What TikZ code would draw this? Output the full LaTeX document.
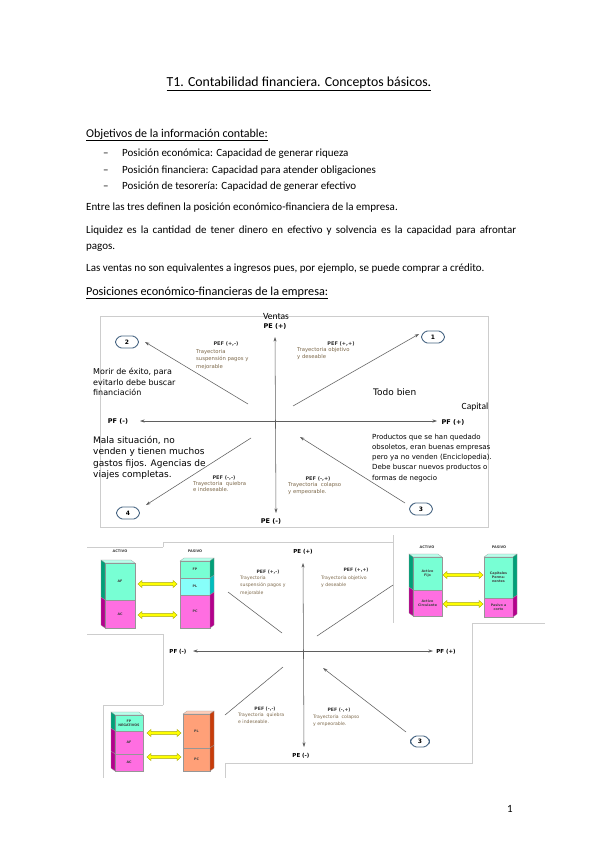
\documentclass[tikz,border=0pt]{standalone}
\usepackage{fontspec}
\setmainfont{Carlito}
\newfontfamily\dv{DejaVu Sans}
\usetikzlibrary{arrows.meta,shapes.misc}
\definecolor{aqF}{RGB}{120,255,212}
\definecolor{aqS}{RGB}{0,160,120}
\definecolor{aqT}{RGB}{185,255,235}
\definecolor{cyF}{RGB}{135,255,250}
\definecolor{cyS}{RGB}{0,190,190}
\definecolor{pkF}{RGB}{255,110,225}
\definecolor{pkS}{RGB}{180,0,140}
\definecolor{saF}{RGB}{255,160,120}
\definecolor{saS}{RGB}{200,60,10}
\definecolor{saT}{RGB}{255,205,185}
\definecolor{yelF}{RGB}{255,255,0}
\definecolor{yelD}{RGB}{165,165,0}
\definecolor{axc}{RGB}{95,95,95}
\definecolor{frm}{RGB}{205,205,205}
\definecolor{trc}{RGB}{125,105,75}
\definecolor{bdg}{RGB}{70,100,130}
\definecolor{bxl}{RGB}{150,150,150}
\tikzset{
  body/.style={anchor=base west, inner sep=0pt, font=\fontsize{11}{13}\selectfont},
  hd/.style={anchor=base west, inner sep=0pt, font=\fontsize{12}{14}\selectfont},
  frmline/.style={draw=frm, line width=0.6pt},
  axl/.style={draw=axc, line width=0.55pt},
  arr/.style={axl, -{Stealth[length=4.5pt,width=3pt]}},
  ax/.style={axl, {Stealth[length=4.5pt,width=3pt]}-{Stealth[length=4.5pt,width=3pt]}},
  axlab/.style={anchor=base, inner sep=0pt, font=\dv\bfseries\fontsize{6.5}{7}\selectfont},
  axlabb/.style={anchor=base, inner sep=0pt, font=\dv\bfseries\fontsize{5.5}{6}\selectfont},
  pef/.style={anchor=base, inner sep=0pt, font=\dv\bfseries\fontsize{5}{6}\selectfont, text=black!80},
  pefb/.style={anchor=base, inner sep=0pt, font=\dv\bfseries\fontsize{4.6}{5}\selectfont, text=black!80},
  tray/.style={anchor=base west, inner sep=0pt, font=\dv\fontsize{5.3}{6}\selectfont, text=trc},
  trayb/.style={anchor=base west, inner sep=0pt, font=\dv\fontsize{4.6}{5}\selectfont, text=trc},
  big/.style={anchor=base west, inner sep=0pt, font=\dv\fontsize{9}{11}\selectfont},
  mid/.style={anchor=base west, inner sep=0pt, font=\dv\fontsize{8}{10}\selectfont},
  sml/.style={anchor=base west, inner sep=0pt, font=\dv\fontsize{7}{9}\selectfont},
  badge/.style={chamfered rectangle, chamfered rectangle xsep=3pt, draw=bdg, line width=0.9pt,
    minimum width=23pt, minimum height=12pt, inner sep=0pt, rounded corners=1.5pt,
    font=\dv\bfseries\fontsize{6}{6}\selectfont},
  badgeb/.style={badge, minimum width=19pt, minimum height=11pt},
  bl/.style={inner sep=0pt, align=center, font=\dv\bfseries\fontsize{3.3}{4}\selectfont, text=black!75},
  bh/.style={anchor=base, inner sep=0pt, font=\dv\bfseries\fontsize{3.5}{4}\selectfont, text=black!75},
}
% 3D column: #1 name, #2 x0, #3 x1, #4 side offset, #5 top y, #6 top colour, #7 segments
\newcommand\bcol[7]{%
  \pgfmathsetmacro\xe{#4<0 ? #2 : #3}%
  \fill[#6, draw=bxl, line width=0.2pt] (#2,#5) -- (#3,#5) -- ({#3+(#4)},{#5-3}) -- ({#2+(#4)},{#5-3}) -- cycle;
  \foreach \ya/\yb/\fc/\sc/\lb [count=\k] in {#7}{%
    \fill[\fc, draw=bxl, line width=0.2pt] (#2,\ya) rectangle (#3,\yb);
    \fill[\sc, draw=bxl, line width=0.2pt] (\xe,\ya) -- ({\xe+(#4)},{\ya-3}) -- ({\xe+(#4)},{\yb-3}) -- (\xe,\yb) -- cycle;
    \node[bl] (#1\k) at ({(#2+#3)/2},{(\ya+\yb)/2}) {\lb};
  }%
}
% yellow double arrow: #1 x0, #2 x1, #3 y
\newcommand\yarrow[3]{%
  \fill[yelF, draw=yelD, line width=0.4pt] (#1,#3) -- ({#1+4},{#3-3.6}) -- ({#1+4},{#3-1.4}) -- ({#2-4},{#3-1.4}) -- ({#2-4},{#3-3.6}) -- (#2,#3)
   -- ({#2-4},{#3+3.6}) -- ({#2-4},{#3+1.4}) -- ({#1+4},{#3+1.4}) -- ({#1+4},{#3+3.6}) -- cycle;
}
\begin{document}
\begin{tikzpicture}[x=1pt,y=-1pt]
\useasboundingbox[fill=white] (0,0) rectangle (599,848);

% ---------- text ----------
\node[anchor=base, inner sep=0pt, font=\fontsize{13.8}{16}\selectfont] (title) at (299,86.5) {\underline{T1. Contabilidad financiera. Conceptos básicos.}};
\node[hd] (obj) at (86,137) {\underline{Objetivos de la información contable:}};
\node[body] (d1) at (103,156.5) {–};
\node[body] (l1) at (122,156.5) {Posición económica: Capacidad de generar riqueza};
\node[body] (d2) at (103,173) {–};
\node[body] (l2) at (122,173) {Posición financiera: Capacidad para atender obligaciones};
\node[body] (d3) at (103,189.5) {–};
\node[body] (l3) at (122,189.5) {Posición de tesorería: Capacidad de generar efectivo};
\node[body] (p1) at (86,210.5) {Entre las tres definen la posición económico-financiera de la empresa.};
\node[body] (p2) at (86,233.5) {\makebox[430pt][s]{Liquidez es la cantidad de tener dinero en efectivo y solvencia es la capacidad para afrontar}};
\node[body] (p3) at (86,249.5) {pagos.};
\node[body] (p4) at (86,271.5) {Las ventas no son equivalentes a ingresos pues, por ejemplo, se puede comprar a crédito.};
\node[anchor=base west, inner sep=0pt, font=\fontsize{12.2}{14}\selectfont] (h2) at (86,295) {\underline{Posiciones económico-financieras de la empresa:}};
\node[body] (pg) at (507,812) {1};

% ---------- diagram 1 ----------
\draw[frmline] (100,316) rectangle (488,527);
\coordinate (v1t) at (275,337);
\coordinate (v1b) at (276,513);
\coordinate (h1l) at (140,421);
\coordinate (h1r) at (437,421);
\draw[ax] (v1t) -- (v1b);
\draw[ax] (h1l) -- (h1r);
\node[anchor=base, inner sep=0pt, font=\fontsize{9.5}{10}\selectfont] (ventas) at (276,319) {Ventas};
\node[axlab] (pe1p) at (275,328.5) {PE (+)};
\node[axlab] (pe1m) at (271,523.5) {PE (-)};
\node[axlab] (pf1m) at (118,423.5) {PF (-)};
\node[axlab] (pf1p) at (453,424.5) {PF (+)};
\node[anchor=base, inner sep=0pt, font=\fontsize{9.5}{10}\selectfont] (capital) at (475,409) {Capital};

\node[badge] (n2) at (127,342) {2};
\node[badge] (n1) at (433,337) {1};
\node[badge] (n4) at (128,513) {4};
\node[badge] (n3) at (421,509) {3};

\coordinate (a2s) at (248,404); \coordinate (a2e) at (145,342);
\coordinate (a1s) at (293,406); \coordinate (a1e) at (419,334);
\coordinate (a4s) at (251,438); \coordinate (a4e) at (146,505);
\coordinate (a3s) at (405,503); \coordinate (a3e) at (300,437);
\draw[arr] (a2s) -- (a2e);
\draw[arr] (a1s) -- (a1e);
\draw[arr] (a4s) -- (a4e);
\draw[arr] (a3s) -- (a3e);

\node[pef] (pefA) at (226,345) {PEF (+,-)};
\node[tray] (tA1) at (196,353) {Trayectoria};
\node[tray] (tA2) at (196,360.5) {suspensión pagos y};
\node[tray] (tA3) at (196,368) {mejorable};
\node[pef] (pefB) at (341,345) {PEF (+,+)};
\node[tray] (tB1) at (297,351.5) {Trayectoria objetivo};
\node[tray] (tB2) at (297,358.5) {y deseable};
\node[pef] (pefC) at (224,479) {PEF (-,-)};
\node[tray] (tC1) at (193,485) {Trayectoria\ \ quiebra};
\node[tray] (tC2) at (193,491.5) {e indeseable.};
\node[pef] (pefD) at (318,480) {PEF (-,+)};
\node[tray] (tD1) at (288,486.5) {Trayectoria\ \ colapso};
\node[tray] (tD2) at (288,493) {y empeorable.};

\node[mid] (m1) at (93,374.5) {Morir de éxito, para};
\node[mid] (m2) at (93,385) {evitarlo debe buscar};
\node[mid] (m3) at (93,395.5) {financiación};
\node[big] (todo) at (373,395) {Todo bien};
\node[big] (s1) at (93,443) {Mala situación, no};
\node[big] (s2) at (93,454.5) {venden y tienen muchos};
\node[big] (s3) at (93,466) {gastos fijos. Agencias de};
\node[big] (s4) at (93,477.5) {viajes completas.};
\node[sml] (q1) at (372,439) {Productos que se han quedado};
\node[sml] (q2) at (372,449.3) {obsoletos, eran buenas empresas};
\node[sml] (q3) at (372,459.6) {pero ya no venden (Enciclopedia).};
\node[sml] (q4) at (372,469.9) {Debe buscar nuevos productos o};
\node[sml] (q5) at (372,480.2) {formas de negocio};

% ---------- diagram 2 ----------
\draw[frmline] (163,542) rectangle (472,763);
\fill[white] (87,547) rectangle (226,634);
\fill[white] (393,530) rectangle (545,623);
\fill[white] (103,705) rectangle (225,778);
\draw[frmline] (87,547) -- (163,547);
\draw[frmline] (87,634) -- (163,634);
\draw[frmline] (393,535) -- (393,623);
\draw[frmline] (472,623) -- (545,623);
\draw[frmline] (103,705) -- (163,705);
\draw[frmline] (103,705) -- (103,778);
\draw[frmline] (225,763) -- (225,778);

\coordinate (v2t) at (303,563);
\coordinate (v2b) at (304,747);
\coordinate (h2l) at (193,651);
\coordinate (h2r) at (433,651);
\draw[ax] (v2t) -- (v2b);
\draw[ax] (h2l) -- (h2r);
\node[axlabb] (pe2p) at (303,553.5) {PE (+)};
\node[axlabb] (pe2m) at (301,757.5) {PE (-)};
\node[axlabb] (pf2m) at (178,653) {PF (-)};
\node[axlabb] (pf2p) at (446,653) {PF (+)};

\coordinate (c1s) at (228,592); \coordinate (c1e) at (282,633);
\coordinate (c2s) at (317,636); \coordinate (c2e) at (393,585);
\coordinate (c3s) at (283,667); \coordinate (c3e) at (225,715);
\draw[axl] (c1s) -- (c1e);
\draw[axl] (c2s) -- (c2e);
\draw[axl] (c3s) -- (c3e);
\node[badgeb] (m3b) at (420,741.5) {3};
\coordinate (c4s) at (406,732); \coordinate (c4e) at (323,668);
\draw[arr] (c4s) -- (c4e);

\node[pefb] (pefE) at (268,573) {PEF (+,-)};
\node[trayb] (tE1) at (240,579) {Trayectoria};
\node[trayb] (tE2) at (240,586.5) {suspensión pagos y};
\node[trayb] (tE3) at (240,594) {mejorable};
\node[pefb] (pefF) at (356,571) {PEF (+,+)};
\node[trayb] (tF1) at (321,579) {Trayectoria objetivo};
\node[trayb] (tF2) at (321,586) {y deseable};
\node[pefb] (pefG) at (265,710) {PEF (-,-)};
\node[trayb] (tG1) at (238,716.5) {Trayectoria\ \ quiebra};
\node[trayb] (tG2) at (238,723.5) {e indeseable.};
\node[pefb] (pefH) at (339,711) {PEF (-,+)};
\node[trayb] (tH1) at (313,718.5) {Trayectoria\ \ colapso};
\node[trayb] (tH2) at (313,725) {y empeorable.};

% balance sheets
\node[bh] (ulA) at (120,552.5) {ACTIVO};
\node[bh] (ulP) at (195,552.5) {PASIVO};
\bcol{ula}{105}{135}{-4}{563}{aqT}{563/600/aqF/aqS/AF, 600/628/pkF/pkS/AC}
\bcol{ulp}{180}{210}{4}{561}{aqT}{561/578/aqF/aqS/FP, 578/595/cyF/cyS/PL, 595/628/pkF/pkS/PC}
\yarrow{138}{177}{584}
\yarrow{138}{177}{615}

\node[bh] (urA) at (427,548.5) {ACTIVO};
\node[bh] (urP) at (499,548.5) {PASIVO};
\bcol{ura}{413}{442}{-4}{557}{aqT}{557/590/aqF/aqS/{Activo\\Fijo}, 590/616/pkF/pkS/{Activo\\Circulante}}
\bcol{urp}{484}{513}{4}{557}{aqT}{557/598/aqF/aqS/{Capitales\\Perma-\\nentes}, 598/617/pkF/pkS/{Pasivo a\\corto}}
\yarrow{443}{483}{575}
\yarrow{443}{483}{604}

\bcol{lla}{115}{143}{-4}{715}{aqT}{715/731/aqF/aqS/{FP\\NEGATIVOS}, 731/754/pkF/pkS/AF, 754/771/pkF/pkS/AC}
\bcol{llp}{183}{210}{4}{714}{saT}{714/748/saF/saS/PL, 748/771/saF/saS/PC}
\yarrow{147}{181}{733}
\yarrow{147}{181}{757}
\end{tikzpicture}
\end{document}
